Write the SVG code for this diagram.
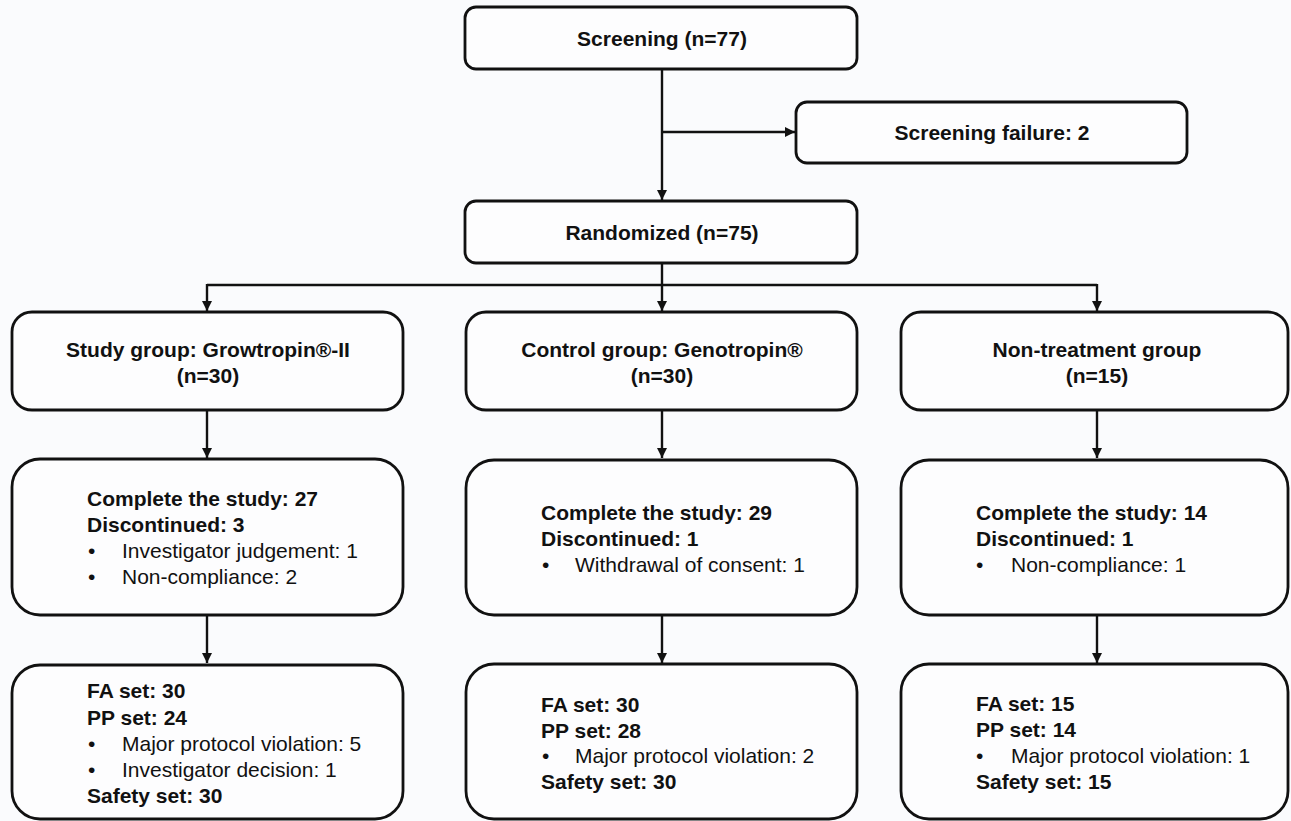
<svg xmlns="http://www.w3.org/2000/svg" width="1291" height="821" viewBox="0 0 1291 821">
<defs>
<marker id="arr" viewBox="0 0 10 10" refX="10" refY="5" markerWidth="10" markerHeight="10" markerUnits="userSpaceOnUse" orient="auto">
<path d="M0,0 L10,5 L0,10 z" fill="#111"/>
</marker>
<style>
.box{fill:#fdfdfe;stroke:#111;stroke-width:2.8}
.t{font-family:"Liberation Sans",Arial,sans-serif;font-size:21px;fill:#111}
.b{font-weight:bold}
.c{text-anchor:middle}
.ln{fill:none;stroke:#111;stroke-width:2.4}
</style>
</defs>
<rect width="1291" height="821" fill="#fafbfd"/>
<g id="connectors">
<path class="ln" d="M662,69 V200" marker-end="url(#arr)"/>
<path class="ln" d="M662,132 H795" marker-end="url(#arr)"/>
<path class="ln" d="M662,263 V285"/>
<path class="ln" d="M207,285 H1097"/>
<path class="ln" d="M207,284 V311" marker-end="url(#arr)"/>
<path class="ln" d="M662,285 V311" marker-end="url(#arr)"/>
<path class="ln" d="M1097,284 V311" marker-end="url(#arr)"/>
<path class="ln" d="M207,410 V458" marker-end="url(#arr)"/>
<path class="ln" d="M662,410 V458" marker-end="url(#arr)"/>
<path class="ln" d="M1097,410 V458" marker-end="url(#arr)"/>
<path class="ln" d="M207,615 V663" marker-end="url(#arr)"/>
<path class="ln" d="M662,615 V663" marker-end="url(#arr)"/>
<path class="ln" d="M1097,615 V663" marker-end="url(#arr)"/>
</g>
<g id="screening">
<rect class="box" x="465" y="7" width="392" height="62" rx="11"/>
<text class="t b c" x="662" y="46">Screening (n=77)</text>
</g>
<g id="screening-failure">
<rect class="box" x="796" y="102" width="391" height="61" rx="11"/>
<text class="t b c" x="992" y="140">Screening failure: 2</text>
</g>
<g id="randomized">
<rect class="box" x="465" y="201" width="392" height="62" rx="11"/>
<text class="t b c" x="662" y="240">Randomized (n=75)</text>
</g>
<g id="study-group">
<rect class="box" x="12" y="312" width="391" height="98" rx="20"/>
<text class="t b c" x="208" y="357">Study group: Growtropin®-II</text>
<text class="t b c" x="208" y="383">(n=30)</text>
</g>
<g id="control-group">
<rect class="box" x="466" y="312" width="391" height="98" rx="20"/>
<text class="t b c" x="662" y="357">Control group: Genotropin®</text>
<text class="t b c" x="662" y="383">(n=30)</text>
</g>
<g id="non-treatment-group">
<rect class="box" x="901" y="312" width="387" height="98" rx="20"/>
<text class="t b c" x="1097" y="357">Non-treatment group</text>
<text class="t b c" x="1097" y="383">(n=15)</text>
</g>
<g id="study-completion">
<rect class="box" x="12" y="459" width="391" height="156" rx="28"/>
<text class="t b" x="87" y="506">Complete the study: 27</text>
<text class="t b" x="87" y="532">Discontinued: 3</text>
<text class="t" x="88" y="558">•</text>
<text class="t" x="122" y="558">Investigator judgement: 1</text>
<text class="t" x="88" y="584">•</text>
<text class="t" x="122" y="584">Non-compliance: 2</text>
</g>
<g id="control-completion">
<rect class="box" x="466" y="460" width="391" height="155" rx="28"/>
<text class="t b" x="541" y="520">Complete the study: 29</text>
<text class="t b" x="541" y="546">Discontinued: 1</text>
<text class="t" x="542" y="572">•</text>
<text class="t" x="575" y="572">Withdrawal of consent: 1</text>
</g>
<g id="non-treatment-completion">
<rect class="box" x="901" y="460" width="387" height="155" rx="28"/>
<text class="t b" x="976" y="520">Complete the study: 14</text>
<text class="t b" x="976" y="546">Discontinued: 1</text>
<text class="t" x="976" y="572">•</text>
<text class="t" x="1011" y="572">Non-compliance: 1</text>
</g>
<g id="study-sets">
<rect class="box" x="12" y="665" width="391" height="154" rx="28"/>
<text class="t b" x="87" y="698">FA set: 30</text>
<text class="t b" x="87" y="725">PP set: 24</text>
<text class="t" x="88" y="751">•</text>
<text class="t" x="122" y="751">Major protocol violation: 5</text>
<text class="t" x="88" y="777">•</text>
<text class="t" x="122" y="777">Investigator decision: 1</text>
<text class="t b" x="87" y="803">Safety set: 30</text>
</g>
<g id="control-sets">
<rect class="box" x="466" y="664" width="391" height="155" rx="28"/>
<text class="t b" x="541" y="712">FA set: 30</text>
<text class="t b" x="541" y="738">PP set: 28</text>
<text class="t" x="542" y="763">•</text>
<text class="t" x="575" y="763">Major protocol violation: 2</text>
<text class="t b" x="541" y="789">Safety set: 30</text>
</g>
<g id="non-treatment-sets">
<rect class="box" x="901" y="664" width="387" height="155" rx="28"/>
<text class="t b" x="976" y="711">FA set: 15</text>
<text class="t b" x="976" y="737">PP set: 14</text>
<text class="t" x="976" y="763">•</text>
<text class="t" x="1011" y="763">Major protocol violation: 1</text>
<text class="t b" x="976" y="789">Safety set: 15</text>
</g>
</svg>
